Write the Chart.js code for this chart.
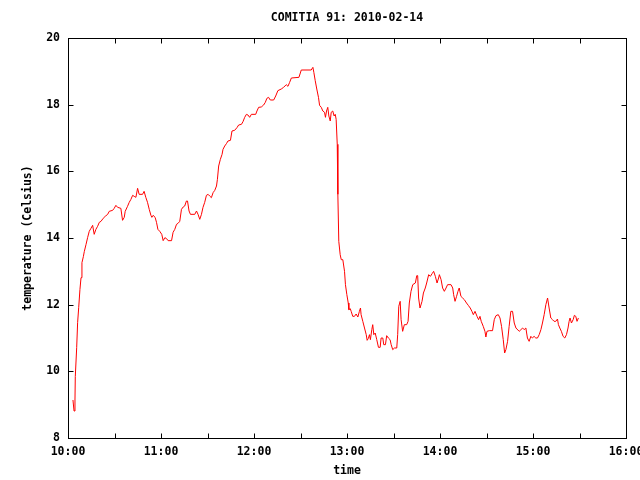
<!DOCTYPE html>
<html lang="en">
<head>
    <meta charset="UTF-8">
    <title>COMITIA 91: 2010-02-14</title>
    <script src="https://cdn.jsdelivr.net/npm/chart.js"></script>
    <style>
        html, body {
            margin: 0;
            padding: 0;
            background: #ffffff;
        }

        .chart-container {
            width: 640px;
            height: 480px;
        }
    </style>
</head>
<body>

    <div class="chart-container">
        <canvas id="tempChart" width="640" height="480"></canvas>
    </div>

    <script>
        // minutes after midnight
        const times = [
            603.2, 603.9, 604.5, 604.7, 605.6, 606.2, 606.9, 607.7, 608.4, 609.0,
            609.9, 610.5, 611.6, 612.7, 613.7, 614.8, 615.9, 616.9, 618.0, 619.1,
            620.2, 621.3, 622.7, 624.0, 625.6, 626.6, 628.8, 629.8, 630.9, 632.0,
            634.1, 635.2, 636.3, 636.9, 638.4, 639.5, 640.6, 641.7, 642.7, 643.8,
            644.9, 645.9, 648.1, 649.1, 650.2, 651.3, 652.4, 653.5, 654.1, 654.9,
            656.2, 657.1, 658.0, 659.2, 660.5, 661.4, 662.5, 663.6, 664.6, 666.8,
            667.8, 668.9, 670.0, 671.0, 672.1, 673.2, 674.3, 675.3, 676.4, 677.1,
            678.1, 679.0, 681.8, 682.9, 683.9, 685.0, 686.1, 687.1, 688.2, 689.3,
            690.4, 691.4, 692.5, 693.6, 694.7, 695.8, 696.4, 697.2, 698.3, 699.4,
            700.0, 701.1, 702.2, 703.2, 704.8, 705.8, 707.5, 709.0, 710.1, 711.9,
            712.9, 714.0, 715.1, 716.1, 717.2, 718.3, 721.1, 721.9, 723.0, 724.7,
            726.2, 727.3, 728.3, 729.4, 730.5, 732.7, 734.0, 735.4, 737.6, 739.1,
            740.8, 741.9, 743.0, 744.1, 749.0, 750.5, 756.9, 758.0, 758.6, 759.5,
            760.5, 761.6, 762.3, 763.4, 764.4, 765.5, 766.1, 766.8, 767.6, 768.3,
            769.2, 769.8, 770.8, 771.7, 772.4, 773.0, 773.7, 774.1, 774.7, 775.6,
            776.3, 777.3, 778.4, 779.0, 779.9, 780.8, 781.2, 782.1, 782.7, 783.7,
            784.8, 785.9, 787.0, 788.0, 788.7, 789.1, 790.2, 791.3, 792.4, 793.0,
            793.8, 794.5, 795.1, 796.0, 796.6, 797.3, 798.2, 799.2, 800.3, 801.4,
            802.0, 803.1, 803.7, 804.8, 805.6, 806.7, 807.8, 808.5, 809.5, 810.6,
            812.1, 812.7, 813.4, 814.3, 814.9, 815.9, 817.0, 818.5, 819.4, 820.2,
            821.3, 822.4, 824.1, 825.0, 825.6, 826.2, 827.1, 828.4, 829.3, 830.5,
            831.4, 832.7, 833.8, 834.9, 835.9, 837.0, 838.1, 839.1, 839.6, 840.7,
            841.7, 842.8, 843.9, 844.9, 847.1, 848.2, 848.8, 849.7, 850.7, 851.6,
            852.4, 853.5, 854.6, 855.7, 857.1, 858.4, 859.5, 860.6, 861.5, 862.6,
            863.9, 864.9, 865.8, 866.6, 867.9, 869.0, 869.6, 870.3, 871.8, 873.9,
            875.0, 876.1, 877.6, 878.7, 879.7, 880.8, 881.7, 882.5, 883.6, 884.6,
            885.7, 886.8, 887.9, 889.0, 891.1, 892.2, 893.3, 894.3, 895.4, 896.4,
            897.5, 898.6, 899.6, 900.7, 901.8, 902.9, 904.0, 905.1, 906.1, 907.2,
            908.3, 909.4, 910.4, 911.5, 912.6, 913.6, 914.7, 915.8, 916.4, 917.3,
            918.3, 919.4, 920.5, 921.6, 922.6, 923.3, 923.9, 924.8, 925.9, 926.7,
            927.6, 928.4, 929.3
        ];

        // degrees Celsius
        const temps = [
            9.14, 8.81, 9.14, 9.84, 10.71, 11.46, 11.91, 12.45, 12.81, 13.26,
            13.44, 13.59, 13.80, 14.02, 14.20, 14.29, 14.38, 14.11, 14.26, 14.35,
            14.47, 14.50, 14.59, 14.65, 14.71, 14.80, 14.83, 14.89, 14.98, 14.92,
            14.89, 14.53, 14.62, 14.80, 14.95, 15.07, 15.16, 15.28, 15.25, 15.22,
            15.49, 15.31, 15.31, 15.40, 15.22, 15.07, 14.86, 14.68, 14.62, 14.68,
            14.62, 14.47, 14.26, 14.20, 14.11, 13.92, 14.01, 13.98, 13.92, 13.92,
            14.17, 14.26, 14.41, 14.44, 14.50, 14.86, 14.93, 14.96, 15.11, 15.11,
            14.81, 14.71, 14.71, 14.81, 14.71, 14.56, 14.71, 14.92, 15.07, 15.28,
            15.31, 15.26, 15.21, 15.36, 15.43, 15.56, 15.76, 16.16, 16.36, 16.51,
            16.66, 16.76, 16.83, 16.91, 16.93, 17.21, 17.23, 17.31, 17.39, 17.41,
            17.49, 17.62, 17.71, 17.69, 17.62, 17.71, 17.71, 17.81, 17.92, 17.93,
            17.99, 18.07, 18.19, 18.22, 18.14, 18.14, 18.26, 18.42, 18.47, 18.52,
            18.60, 18.55, 18.67, 18.80, 18.82, 19.04, 19.04, 19.12, 18.97, 18.72,
            18.47, 18.22, 17.98, 17.92, 17.81, 17.77, 17.62, 17.81, 17.92, 17.66,
            17.51, 17.77, 17.81, 17.66, 17.71, 17.56, 16.81, 15.31, 13.90, 13.50,
            13.35, 13.35, 13.00, 12.60, 12.30, 12.05, 11.85, 11.88, 11.80, 11.65,
            11.65, 11.72, 11.63, 11.80, 11.90, 11.70, 11.50, 11.30, 11.10, 10.93,
            10.99, 11.10, 10.95, 11.25, 11.40, 11.10, 11.15, 10.95, 10.72, 10.72,
            11.00, 11.00, 10.80, 10.80, 11.07, 11.00, 10.95, 10.80, 10.65, 10.70,
            10.70, 11.10, 11.95, 12.10, 11.55, 11.20, 11.40, 11.40, 11.50, 12.05,
            12.40, 12.60, 12.65, 12.87, 12.87, 12.20, 11.90, 12.10, 12.35, 12.50,
            12.65, 12.90, 12.85, 12.93, 13.00, 12.85, 12.65, 12.80, 12.90, 12.75,
            12.50, 12.40, 12.50, 12.60, 12.60, 12.50, 12.30, 12.10, 12.25, 12.40,
            12.50, 12.25, 12.20, 12.15, 12.05, 11.97, 11.90, 11.80, 11.70, 11.80,
            11.65, 11.55, 11.65, 11.50, 11.35, 11.20, 11.03, 11.20, 11.22, 11.22,
            11.55, 11.67, 11.70, 11.60, 11.35, 10.95, 10.55, 10.65, 10.90, 11.35,
            11.80, 11.80, 11.45, 11.30, 11.20, 11.25, 11.30, 11.25, 11.30, 11.00,
            10.90, 11.05, 11.00, 11.05, 11.00, 11.00, 11.10, 11.25, 11.45, 11.70,
            12.00, 12.20, 11.90, 11.60, 11.55, 11.50, 11.50, 11.57, 11.40, 11.30,
            11.20, 11.05, 11.00, 11.10, 11.30, 11.50, 11.60, 11.45, 11.55, 11.68,
            11.65, 11.50, 11.60
        ];

        const xTicks = [600, 630, 660, 690, 720, 750, 780, 810, 840, 870, 900, 930, 960];
        const xTickLabels = ["10:00", "11:00", "12:00", "13:00", "14:00", "15:00", "16:00"];
        const yTicks = [8, 10, 12, 14, 16, 18, 20];

        const FONT = "bold 11.5px 'DejaVu Sans Mono', 'Liberation Mono', monospace";

        // gnuplot style frame: border, inward ticks on all sides, labels and titles
        const gnuplotFrame = {
            id: 'gnuplotFrame',
            afterDraw(chart) {
                const ctx = chart.ctx;
                const area = chart.chartArea;
                const xs = chart.scales.x;
                const ys = chart.scales.y;
                const L = area.left + 0.5, R = area.right + 0.5;
                const T = area.top + 0.5, B = area.bottom + 0.5;
                const tick = 5;

                ctx.save();
                ctx.strokeStyle = '#000000';
                ctx.lineWidth = 1;
                ctx.beginPath();

                xTicks.forEach(v => {
                    const px = Math.round(xs.getPixelForValue(v)) + 0.5;
                    ctx.moveTo(px, B); ctx.lineTo(px, B - tick);
                    ctx.moveTo(px, T); ctx.lineTo(px, T + tick);
                });
                yTicks.forEach(v => {
                    const py = Math.round(ys.getPixelForValue(v)) + 0.5;
                    ctx.moveTo(L, py); ctx.lineTo(L + tick, py);
                    ctx.moveTo(R, py); ctx.lineTo(R - tick, py);
                });
                ctx.stroke();

                ctx.strokeRect(L, T, R - L, B - T);

                ctx.fillStyle = '#000000';
                ctx.font = FONT;

                // y tick labels
                ctx.textAlign = 'right';
                ctx.textBaseline = 'middle';
                yTicks.forEach(v => {
                    ctx.fillText(String(v), area.left - 8, ys.getPixelForValue(v));
                });

                // x tick labels, whole hours only
                ctx.textAlign = 'center';
                xTickLabels.forEach(lbl => {
                    const parts = lbl.split(':');
                    const v = parseInt(parts[0], 10) * 60 + parseInt(parts[1], 10);
                    ctx.fillText(lbl, xs.getPixelForValue(v), area.bottom + 14);
                });

                const midX = (area.left + area.right) / 2;
                ctx.fillText('COMITIA 91: 2010-02-14', midX, 18);
                ctx.fillText('time', midX, 471);

                ctx.translate(28, (area.top + area.bottom) / 2);
                ctx.rotate(-Math.PI / 2);
                ctx.fillText('temperature (Celsius)', 0, 0);

                ctx.restore();
            }
        };

        const ctx = document.getElementById('tempChart').getContext('2d');
        new Chart(ctx, {
            type: 'line',
            data: {
                datasets: [{
                    data: times.map((t, i) => ({ x: t, y: temps[i] })),
                    borderColor: '#ff0000',
                    borderWidth: 1,
                    pointRadius: 0,
                    tension: 0,
                    fill: false
                }]
            },
            options: {
                responsive: false,
                animation: false,
                layout: {
                    padding: { left: 68, right: 14, top: 38, bottom: 42 }
                },
                plugins: {
                    legend: { display: false },
                    title: { display: false },
                    tooltip: { enabled: false }
                },
                scales: {
                    x: {
                        type: 'linear',
                        display: false,
                        min: 600,
                        max: 960
                    },
                    y: {
                        display: false,
                        min: 8,
                        max: 20
                    }
                }
            },
            plugins: [gnuplotFrame]
        });
    </script>

</body>
</html>
